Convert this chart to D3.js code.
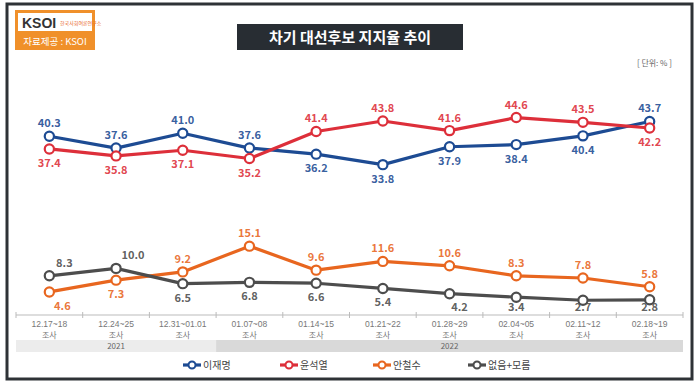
<!DOCTYPE html>
<html>
<head>
<meta charset="utf-8">
<script src="https://cdn.jsdelivr.net/npm/d3@7"></script>
<style>
  body { margin: 0; background: #fff; }
  svg { display: block; font-family: "Noto Sans CJK KR", "Noto Sans", sans-serif; }
</style>
</head>
<body>
<svg id="chart" width="698" height="386"></svg>
<script>
// 조사 기간
var dates = ["12.17~18", "12.24~25", "12.31~01.01", "01.07~08", "01.14~15",
             "01.21~22", "01.28~29", "02.04~05", "02.11~12", "02.18~19"];
var years = [{ name: "2021", from: 0, to: 3 }, { name: "2022", from: 3, to: 10 }];

// 후보별 지지율
var lee   = [40.3, 37.6, 41.0, 37.6, 36.2, 33.8, 37.9, 38.4, 40.4, 43.7];
var yoon  = [37.4, 35.8, 37.1, 35.2, 41.4, 43.8, 41.6, 44.6, 43.5, 42.2];
var ahn   = [4.6, 7.3, 9.2, 15.1, 9.6, 11.6, 10.6, 8.3, 7.8, 5.8];
var none  = [8.3, 10.0, 6.5, 6.8, 6.6, 5.4, 4.2, 3.4, 2.7, 2.8];

// 라벨 위치 (a: 위, b: 아래)
var leePos  = ["a","a","a","a","b","b","b","b","b","a"];
var yoonPos = ["b","b","b","b","a","a","a","a","a","b"];
var ahnPos  = ["b","b","a","a","a","a","a","a","a","a"];
var nonePos = ["a","a","b","b","b","b","b","b","b","b"];

var series = [
  { name: "이재명", values: lee, pos: leePos, color: "#1d4b93" },
  { name: "윤석열", values: yoon, pos: yoonPos, color: "#dd2f3a" },
  { name: "안철수", values: ahn, pos: ahnPos, color: "#e8661f" },
  { name: "없음+모름", values: none, pos: nonePos, color: "#4d4d4d" }
];

var svg = d3.select("#chart");

// 테두리
svg.append("rect").attr("x", 7).attr("y", 4).attr("width", 685).attr("height", 375)
  .attr("fill", "#fff").attr("stroke", "#2e3236").attr("stroke-width", 3);

// 로고
var logo = svg.append("g");
logo.append("rect").attr("x", 15).attr("y", 10).attr("width", 80).attr("height", 40).attr("fill", "#f0902a");
logo.append("rect").attr("x", 18).attr("y", 13).attr("width", 74).attr("height", 18).attr("fill", "#fff");
logo.append("text").attr("x", 22).attr("y", 28).attr("font-size", 14).attr("font-weight", "bold")
  .attr("fill", "#333").attr("font-family", "Liberation Sans, sans-serif").text("KSOI");
logo.append("text").attr("x", 60).attr("y", 25).attr("font-size", 5).attr("fill", "#e8661f").text("한국사회여론연구소");
logo.append("text").attr("x", 55).attr("y", 45).attr("text-anchor", "middle").attr("font-size", 9.5)
  .attr("fill", "#fff").text("자료제공 : KSOI");

// 제목
svg.append("rect").attr("x", 237).attr("y", 24).attr("width", 226).attr("height", 26).attr("fill", "#282d33");
svg.append("text").attr("x", 350).attr("y", 42.5).attr("text-anchor", "middle")
  .attr("font-size", 15).attr("font-weight", "bold").attr("fill", "#fff").text("차기 대선후보 지지율 추이");

svg.append("text").attr("x", 672).attr("y", 66).attr("text-anchor", "end")
  .attr("font-size", 8).attr("fill", "#666").text("[ 단위: % ]");

// 스케일
var x = d3.scaleBand().domain(dates).range([16, 683]);
var y = d3.scaleLinear().domain([0, 45]).range([312, 115.8]);
var cx = function(i) { return x(dates[i]) + x.bandwidth() / 2; };

// 연도 띠
svg.selectAll(".yearband").data(years).enter().append("rect")
  .attr("x", function(d) { return x(dates[d.from]); })
  .attr("y", 340)
  .attr("width", function(d) { return x.bandwidth() * (d.to - d.from); })
  .attr("height", 12)
  .attr("fill", function(d, i) { return i === 0 ? "#ececec" : "#d9d9d9"; });
svg.selectAll(".yeartext").data(years).enter().append("text")
  .attr("x", function(d) { return x(dates[d.from]) + x.bandwidth() * (d.to - d.from) / 2; })
  .attr("y", 349).attr("text-anchor", "middle").attr("font-size", 8).attr("fill", "#666")
  .text(function(d) { return d.name; });

// x축
var axis = svg.append("g");
axis.append("line").attr("x1", 16).attr("x2", 683).attr("y1", 315).attr("y2", 315)
  .attr("stroke", "#bbb").attr("stroke-width", 1);
axis.selectAll(".tk").data(d3.range(dates.length + 1)).enter().append("line")
  .attr("x1", function(i) { return 16 + i * x.bandwidth(); })
  .attr("x2", function(i) { return 16 + i * x.bandwidth(); })
  .attr("y1", 312).attr("y2", 318).attr("stroke", "#bbb");
axis.selectAll(".xl").data(dates).enter().append("text")
  .attr("x", function(d) { return x(d) + x.bandwidth() / 2; })
  .attr("y", 326.5).attr("text-anchor", "middle").attr("font-size", 8.5).attr("fill", "#777")
  .attr("font-family", "Liberation Sans, Arial, sans-serif")
  .text(function(d) { return d; });
axis.selectAll(".xl2").data(dates).enter().append("text")
  .attr("x", function(d) { return x(d) + x.bandwidth() / 2; })
  .attr("y", 338).attr("text-anchor", "middle").attr("font-size", 8).attr("fill", "#777")
  .text("조사");

// 선과 점
var line = d3.line().x(function(d, i) { return cx(i); }).y(function(d) { return y(d); });

series.forEach(function(s) {
  var g = svg.append("g");
  g.append("path").attr("d", line(s.values)).attr("fill", "none")
    .attr("stroke", s.color).attr("stroke-width", 3.2).attr("stroke-linejoin", "round");
  g.selectAll("circle").data(s.values).enter().append("circle")
    .attr("cx", function(d, i) { return cx(i); })
    .attr("cy", function(d) { return y(d); })
    .attr("r", 4.6).attr("fill", "#fff").attr("stroke", s.color).attr("stroke-width", 2.2);
  s.g = g;
});

series.forEach(function(s) {
  s.g.selectAll("text").data(s.values).enter().append("text")
    .attr("x", function(d, i) {
      var dx = 0;
      if (s.name === "없음+모름" && i === 1) dx = 17;
      if (s.name === "없음+모름" && i === 0) dx = 15;
      if (s.name === "안철수" && i === 0) dx = 13;
      if (s.name === "없음+모름" && i === 6) dx = 10;
      return cx(i) + dx;
    })
    .attr("y", function(d, i) {
      return s.pos[i] === "a" ? y(d) - 9 : Math.min(y(d) + 18, 311);
    })
    .attr("text-anchor", "middle").attr("font-size", 11).attr("font-weight", "bold")
    .attr("fill", s.color).attr("fill-opacity", 0.9)
    .text(function(d) { return d.toFixed(1); });
});

// 범례
var legX = [183, 280, 373, 468];
var leg = svg.selectAll(".leg").data(series).enter().append("g")
  .attr("transform", function(d, i) { return "translate(" + legX[i] + ",365)"; });
leg.append("line").attr("x1", 0).attr("x2", 18).attr("y1", 0).attr("y2", 0)
  .attr("stroke", function(d) { return d.color; }).attr("stroke-width", 3.2);
leg.append("circle").attr("cx", 9).attr("cy", 0).attr("r", 3.5).attr("fill", "#fff")
  .attr("stroke", function(d) { return d.color; }).attr("stroke-width", 2);
leg.append("text").attr("x", 20).attr("y", 4).attr("font-size", 10).attr("fill", "#444")
  .text(function(d) { return d.name; });
</script>
</body>
</html>
